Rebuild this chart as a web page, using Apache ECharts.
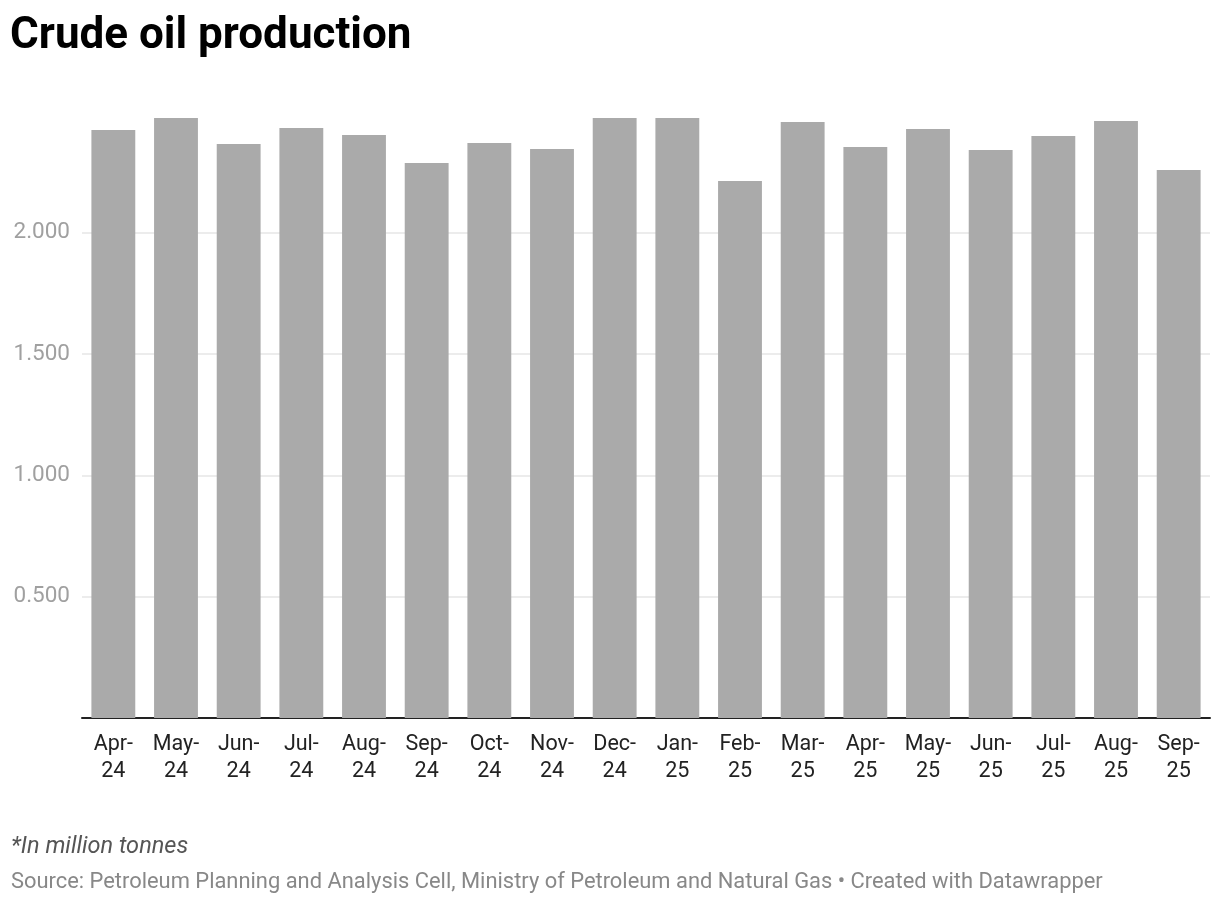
<!DOCTYPE html>
<html>
<head>
<meta charset="utf-8">
<script src="https://cdn.jsdelivr.net/npm/echarts@6/dist/echarts.min.js"></script>
<style>
html,body{margin:0;padding:0;background:#fff;}
#chart{width:1220px;height:904px;}
</style>
</head>
<body>
<div id="chart"></div>
<script>
const categories = ['Apr-\n24','May-\n24','Jun-\n24','Jul-\n24','Aug-\n24','Sep-\n24','Oct-\n24','Nov-\n24','Dec-\n24','Jan-\n25','Feb-\n25','Mar-\n25','Apr-\n25','May-\n25','Jun-\n25','Jul-\n25','Aug-\n25','Sep-\n25'];
const production = [2.423, 2.472, 2.365, 2.431, 2.402, 2.287, 2.369, 2.345, 2.472, 2.472, 2.213, 2.456, 2.353, 2.427, 2.341, 2.398, 2.460, 2.258];
const yTicks = [0, 0.5, 1, 1.5, 2, 2.5];

const chart = echarts.init(document.getElementById('chart'), null, {renderer: 'canvas'});
chart.setOption({
  animation: false,
  backgroundColor: '#ffffff',
  textStyle: {fontFamily: 'Roboto'},
  title: [
    {text: 'Crude oil production', left: 5, top: 10,
     textStyle: {fontFamily: 'Roboto', fontWeight: 'bold', fontSize: 44, color: '#000'}},
    {text: '*In million tonnes', left: 6, top: 831,
     textStyle: {fontFamily: 'Roboto', fontStyle: 'italic', fontWeight: 'normal', fontSize: 23.5, color: '#555'}},
    {text: 'Source: Petroleum Planning and Analysis Cell, Ministry of Petroleum and Natural Gas • Created with Datawrapper', left: 6, top: 867,
     textStyle: {fontFamily: 'Roboto', fontWeight: 'normal', fontSize: 21.9, color: '#888'}}
  ],
  grid: {left: 82, right: 10, top: 111.3, bottom: 186, containLabel: false},
  xAxis: {
    type: 'category',
    data: categories,
    axisLine: {lineStyle: {color: '#222', width: 2}},
    axisTick: {show: false},
    axisLabel: {color: '#222', fontSize: 21.5, lineHeight: 27, margin: 13, interval: 0, fontFamily: 'Roboto'}
  },
  yAxis: {
    type: 'value',
    min: yTicks[0],
    max: yTicks[yTicks.length - 1],
    interval: 0.5,
    axisLine: {show: false},
    axisTick: {show: false},
    axisLabel: {
      color: '#a0a0a0', fontSize: 22.5, margin: 12, fontFamily: 'Roboto',
      formatter: v => (v === 0 || v === 2.5) ? '' : v.toFixed(3)
    },
    splitLine: {lineStyle: {color: ['transparent', '#e6e6e6', '#e6e6e6', '#e6e6e6', '#e6e6e6', 'transparent'], width: 1.5}}
  },
  series: [{
    type: 'bar',
    data: production,
    barCategoryGap: '30%',
    itemStyle: {color: '#aaaaaa'}
  }]
});
</script>
</body>
</html>
